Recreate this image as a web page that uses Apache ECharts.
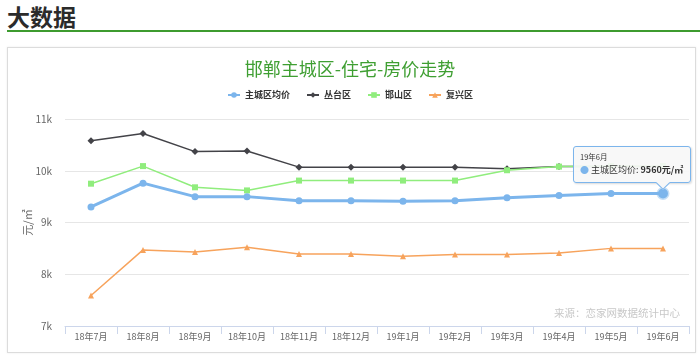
<!DOCTYPE html>
<html><head><meta charset="utf-8">
<script src="https://cdn.jsdelivr.net/npm/echarts@6/dist/echarts.min.js"></script>
<style>
html,body{margin:0;padding:0;background:#fff;}
body{width:700px;height:358px;position:relative;overflow:hidden;font-family:"Noto Sans CJK SC","Noto Sans",sans-serif;}
#heading{position:absolute;left:7px;top:3px;font-size:23px;line-height:27px;font-weight:bold;color:#2b2b2b;}
#rule{position:absolute;left:7px;top:29.5px;width:693px;height:2.5px;background:#3d9b2f;}
#box{position:absolute;left:7px;top:47px;width:687px;height:304px;border:1px solid #dcdcdc;box-shadow:0 0 2px rgba(0,0,0,0.08);}
#chart{position:absolute;left:0;top:0;width:700px;height:358px;z-index:2;}
</style></head>
<body>
<div id="heading">大数据</div>
<div id="rule"></div>
<div id="box"></div>
<div id="chart"></div>
<script>
const titleText = '邯郸主城区-住宅-房价走势';
const sourceText = '来源：恋家网数据统计中心';
const yAxisName = '元/㎡';
const categories = ['18年7月','18年8月','18年9月','18年10月','18年11月','18年12月','19年1月','19年2月','19年3月','19年4月','19年5月','19年6月'];
const seriesNames = ['主城区均价','丛台区','邯山区','复兴区'];
const mainCity = [9300, 9760, 9500, 9500, 9420, 9420, 9410, 9420, 9480, 9520, 9560, 9560];
const congtai  = [10580, 10720, 10370, 10380, 10070, 10070, 10070, 10070, 10040, 10080, 10080, 10080];
const hanshan  = [9750, 10090, 9680, 9620, 9810, 9810, 9810, 9810, 10010, 10080, 10090, 10090];
const fuxing   = [7590, 8470, 8430, 8520, 8390, 8390, 8350, 8380, 8380, 8410, 8500, 8500];
const yTicks = {min: 7000, max: 11000, interval: 1000};
const tipIndex = 11;

const colors = ['#7cb5ec', '#434348', '#90ed7d', '#f7a35c'];
const FONT = '"Noto Sans CJK SC","Noto Sans",sans-serif';

const chart = echarts.init(document.getElementById('chart'));

const mainData = mainCity.map((v, i) => i === tipIndex
  ? {value: v, symbolSize: 10, itemStyle: {borderColor: 'rgba(124,181,236,0.45)', borderWidth: 3}}
  : v);

const option = {
  animation: false,
  color: colors,
  textStyle: {fontFamily: FONT},
  title: {
    text: titleText, left: 'center', top: 55,
    textStyle: {fontSize: 18, fontWeight: 'normal', color: '#3f9f32', fontFamily: FONT}
  },
  legend: {
    top: 84, left: 'center', itemWidth: 12, itemHeight: 7, itemGap: 16,
    textStyle: {fontSize: 9, fontWeight: 'bold', color: '#333', lineHeight: 12, fontFamily: FONT},
    data: seriesNames
  },
  grid: {left: 65, right: 11, top: 119, bottom: 32},
  tooltip: {
    trigger: 'item', triggerOn: 'none', alwaysShowContent: true, transitionDuration: 0,
    backgroundColor: 'rgba(247,247,247,0.92)', borderColor: '#7cb5ec', borderWidth: 1,
    padding: [4, 7, 5, 6],
    extraCssText: 'box-shadow:1px 1px 2px rgba(0,0,0,0.15);border-radius:3px;overflow:visible;',
    position: function (point, params, dom, rect, size) {
      const p = chart.convertToPixel({seriesIndex: 0}, [params.dataIndex, params.value]);
      return [p[0] - 90, p[1] - size.contentSize[1] - 11];
    },
    formatter: function (params) {
      return '<div style="position:relative;font-family:' + FONT.replace(/"/g, "'") + ';color:#333;">' +
        '<div style="font-size:7.5px;line-height:12px;">' + params.name + '</div>' +
        '<div style="font-size:9px;line-height:14px;white-space:nowrap;"><span style="color:' + params.color + ';font-size:9px;">●</span> ' +
        params.seriesName + ': <b>' + params.value + '元/㎡</b></div>' +
        '<div style="position:absolute;left:78px;bottom:-11px;width:9px;height:9px;background:rgb(247,247,247);border-right:1px solid #7cb5ec;border-bottom:1px solid #7cb5ec;transform:rotate(45deg);"></div>' +
        '</div>';
    }
  },
  xAxis: {
    type: 'category', data: categories, boundaryGap: true,
    axisLine: {lineStyle: {color: '#ccd6eb', width: 1}},
    axisTick: {show: true, length: 8, lineStyle: {color: '#ccd6eb'}},
    axisLabel: {fontSize: 9, color: '#666', margin: 6, fontFamily: FONT, interval: 0}
  },
  yAxis: {
    type: 'value', min: yTicks.min, max: yTicks.max, interval: yTicks.interval,
    name: yAxisName, nameLocation: 'middle', nameRotate: 90, nameGap: 32, nameMoveOverlap: false,
    nameTextStyle: {fontSize: 11, color: '#666', fontFamily: FONT},
    axisLine: {show: false}, axisTick: {show: false},
    axisLabel: {fontSize: 10, color: '#666', margin: 13, fontFamily: FONT,
      formatter: v => (v / 1000) + 'k'},
    splitLine: {lineStyle: {color: '#e6e6e6', width: 1}}
  },
  graphic: [{
    type: 'text', right: 20, top: 307.5, silent: true,
    style: {text: sourceText, fontSize: 10.5, fill: '#c8c8c8', fontFamily: FONT}
  }],
  series: [
    {name: seriesNames[0], type: 'line', data: mainData, symbol: 'circle', symbolSize: 7,
      lineStyle: {width: 3}, z: 5},
    {name: seriesNames[1], type: 'line', data: congtai, symbol: 'diamond', symbolSize: 7,
      lineStyle: {width: 1.5}, z: 3},
    {name: seriesNames[2], type: 'line', data: hanshan, symbol: 'rect', symbolSize: 6,
      lineStyle: {width: 1.5}, z: 4},
    {name: seriesNames[3], type: 'line', data: fuxing, symbol: 'triangle', symbolSize: 6,
      lineStyle: {width: 1.5}, z: 3}
  ]
};
chart.setOption(option);
chart.dispatchAction({type: 'showTip', seriesIndex: 0, dataIndex: tipIndex});
</script>
</body></html>
